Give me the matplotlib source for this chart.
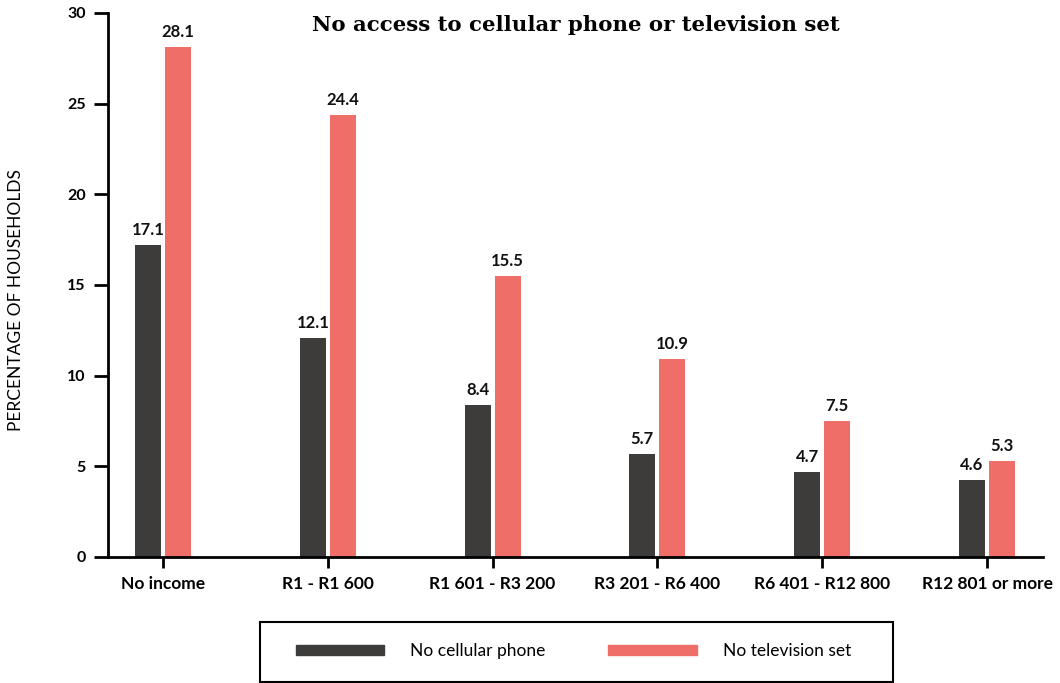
import matplotlib
matplotlib.use('Agg')
import matplotlib.pyplot as plt
from matplotlib.patches import Patch, Rectangle
import numpy as np

categories = ['No income', 'R1 - R1 600', 'R1 601 - R3 200',
              'R3 201 - R6 400', 'R6 401 - R12 800', 'R12 801 or more']
# bar heights as drawn in the source chart
cell_heights = [17.2, 12.1, 8.4, 5.7, 4.7, 4.25]
tv_heights = [28.1, 24.4, 15.5, 10.9, 7.5, 5.3]
# value labels as printed in the source chart
cell_labels = ['17.1', '12.1', '8.4', '5.7', '4.7', '4.6']
tv_labels = ['28.1', '24.4', '15.5', '10.9', '7.5', '5.3']

dark = '#3d3c3a'
salmon = '#ef6f68'

plt.rcParams['font.family'] = ['Lato', 'DejaVu Sans']

fig = plt.figure(figsize=(10.6, 6.83), dpi=100)
ax = fig.add_axes([0.102, 0.1845, 0.882, 0.7965])

x = np.arange(len(categories))
w = 0.158
off = 0.091
b1 = ax.bar(x - off, cell_heights, w, color=dark)
b2 = ax.bar(x + off, tv_heights, w, color=salmon)

for rect, lab in zip(b1, cell_labels):
    ax.annotate(lab, (rect.get_x() + rect.get_width() / 2, rect.get_height()),
                xytext=(0, 5), textcoords='offset points', ha='center', va='bottom',
                fontsize=12, fontweight='bold', color='#111111')
for rect, lab in zip(b2, tv_labels):
    ax.annotate(lab, (rect.get_x() + rect.get_width() / 2, rect.get_height()),
                xytext=(0, 5), textcoords='offset points', ha='center', va='bottom',
                fontsize=12, fontweight='bold', color='#111111')

ax.set_xlim(-0.333, 5.34)
ax.set_ylim(0, 30)
ax.set_yticks(range(0, 31, 5))
ax.set_xticks(x)
ax.set_xticklabels(categories, fontsize=12.5, fontweight='bold')
for t in ax.get_yticklabels():
    t.set_fontsize(11.5)
    t.set_fontweight('bold')

for s in ['top', 'right']:
    ax.spines[s].set_visible(False)
ax.spines['left'].set_linewidth(2)
ax.spines['bottom'].set_linewidth(2)
ax.tick_params(axis='y', length=10, width=2, pad=6)
ax.tick_params(axis='x', length=8, width=2, pad=6)

fig.text(0.015, 0.56, 'PERCENTAGE OF HOUSEHOLDS', rotation=90, ha='center',
         va='center', fontsize=12.5)

fig.text(0.543, 0.963, 'No access to cellular phone or television set',
         ha='center', va='center', fontsize=15.3, fontweight='bold',
         family=['DejaVu Serif'])

# legend without its own frame, box drawn separately to match the source
handles = [Patch(color=dark), Patch(color=salmon)]
leg = fig.legend(handles, ['No cellular phone', 'No television set'],
                 loc='center', bbox_to_anchor=(0.541, 0.047), ncol=2,
                 frameon=False, fontsize=12.5, handlelength=5.1,
                 handleheight=0.55, handletextpad=1.5, columnspacing=3.6,
                 borderaxespad=0)
fig.patches.append(Rectangle((0.2455, 0.0015), 0.597, 0.088, fill=False,
                             edgecolor='black', linewidth=1.5,
                             transform=fig.transFigure, figure=fig))

fig.savefig('out.png', dpi=100, facecolor='white')
